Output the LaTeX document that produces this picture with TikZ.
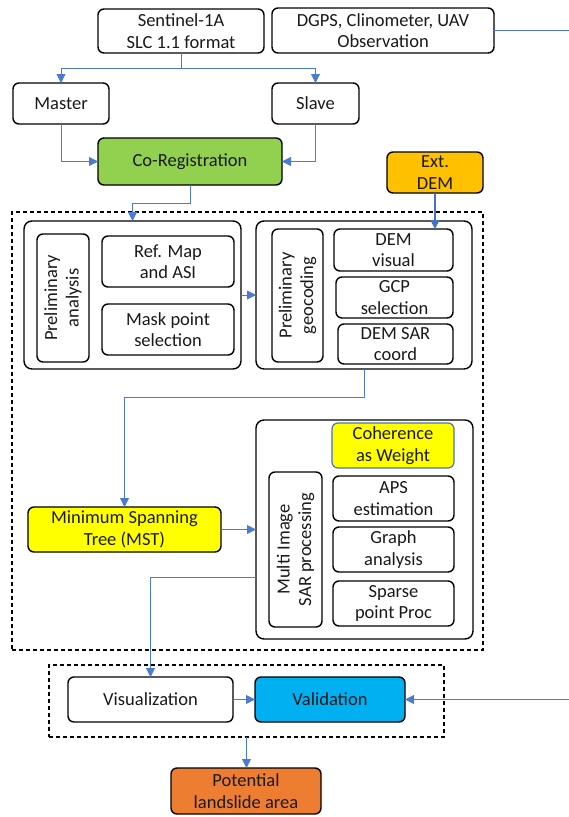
\documentclass[tikz,border=0pt]{standalone}
\usepackage{fontspec}
\setmainfont{Carlito}
\usetikzlibrary{arrows.meta,calc}
\definecolor{lnblue}{HTML}{4A7BD0}
\definecolor{darkblue}{HTML}{4472C4}
\definecolor{cogreen}{HTML}{92D050}
\definecolor{demorange}{HTML}{FFC000}
\definecolor{hiyellow}{HTML}{FFFF00}
\definecolor{valblue}{HTML}{00B0F0}
\definecolor{potorange}{HTML}{ED7D31}
\definecolor{ink}{HTML}{1A1A1A}
\tikzset{
  box/.style={draw=black, line width=1.4pt, rounded corners=6pt, align=center,
    inner sep=0pt, outer sep=0pt, text=ink, font=\fontsize{18.5}{21.5}\selectfont},
  panel/.style={draw=black, line width=1.4pt, rounded corners=8pt, inner sep=0pt, outer sep=0pt},
  group/.style={draw=black, line width=1.2pt, dash pattern=on 4pt off 3pt, inner sep=0pt, outer sep=0pt},
  conn/.style={draw=lnblue, line width=0.9pt, -{Triangle[length=9pt,width=9pt]}},
}
\begin{document}
\begin{tikzpicture}[x=1pt,y=-1pt]
\useasboundingbox (0,0) rectangle (568,817);
\fill[white] (0,0) rectangle (568,817);

% top inputs
\node[box, minimum width=166pt, minimum height=44pt] (sent) at (181,31) {Sentinel-1A\\SLC 1.1 format};
\node[box, minimum width=222pt, minimum height=45pt] (dgps) at (383,30.5) {DGPS, Clinometer, UAV\\Observation};
\node[box, minimum width=96pt, minimum height=41pt] (master) at (61,103.5) {Master};
\node[box, minimum width=87pt, minimum height=41pt] (slave) at (315.5,103.5) {Slave};
\node[box, fill=cogreen, minimum width=184pt, minimum height=47pt] (coreg) at (190,161.5) {Co-Registration};
\node[box, fill=demorange, minimum width=96pt, minimum height=41pt] (extdem) at (435,172.5) {Ext.\\DEM};

% processing group
\node[group, minimum width=471pt, minimum height=438pt] (outer) at (247.5,431) {};
\node[panel, minimum width=217pt, minimum height=148pt] (p1) at (132.5,295) {};
\node[box, rotate=90, minimum width=128pt, minimum height=52pt] (pa) at (63,298) {Preliminary\\analysis};
\node[box, minimum width=132pt, minimum height=51pt] (refmap) at (168,261.5) {Ref. Map\\and ASI};
\node[box, minimum width=132pt, minimum height=51pt] (mask) at (168,329.5) {Mask point\\selection};

\node[panel, minimum width=216pt, minimum height=148pt] (p2) at (364,295) {};
\node[box, rotate=90, minimum width=133pt, minimum height=51pt] (pg) at (297.5,295.5) {Preliminary\\geocoding};
\node[box, minimum width=119pt, minimum height=42pt] (demvis) at (393.5,250) {DEM\\visual};
\node[box, minimum width=117pt, minimum height=41pt] (gcp) at (394.5,297.5) {GCP\\selection};
\node[box, minimum width=115pt, minimum height=40pt] (demsar) at (395.5,344) {DEM SAR\\coord};

\node[box, fill=hiyellow, minimum width=193pt, minimum height=45pt] (mst) at (124.5,529.5) {Minimum Spanning\\Tree (MST)};

\node[panel, minimum width=217pt, minimum height=219pt] (p3) at (364.5,529.5) {};
\node[box, draw=darkblue, line width=1.2pt, fill=hiyellow, minimum width=122pt, minimum height=45pt] (coh) at (393,445.5) {Coherence\\as Weight};
\node[box, rotate=90, minimum width=155pt, minimum height=53pt] (mi) at (295.5,549.5) {Multi Image\\SAR processing};
\node[box, minimum width=121pt, minimum height=45pt] (aps) at (393.5,498.5) {APS\\estimation};
\node[box, minimum width=121pt, minimum height=45pt] (graph) at (393.5,549.5) {Graph\\analysis};
\node[box, minimum width=121pt, minimum height=45pt] (sparse) at (393.5,603.5) {Sparse\\point Proc};

% output group
\node[group, minimum width=395pt, minimum height=72pt] (outer2) at (246.5,701) {};
\node[box, minimum width=165pt, minimum height=45pt] (vis) at (150.5,699.5) {Visualization};
\node[box, fill=valblue, minimum width=150pt, minimum height=45pt] (val) at (330,699.5) {Validation};
\node[box, fill=potorange, minimum width=150pt, minimum height=46pt] (pot) at (246,791) {Potential\\landslide area};

\coordinate (farright) at (600,30.5);

% connectors
\draw[conn] (sent.south) -- ++(0,15) -| (master.north);
\draw[conn] (sent.south) -- ++(0,15) -| (slave.north);
\draw[conn] (master.south) |- (coreg.west);
\draw[conn] (slave.south) |- (coreg.east);
\draw[conn] (coreg.south) -- ++(0,18) -| (p1.north);
\draw[conn, draw=darkblue, line width=1.8pt] (extdem.south) -- (extdem.south |- demvis.north);
\draw[conn] (p1.east) -- (p2.west);
\draw[conn] (p2.south) -- ++(0,28) -| (mst.north);
\draw[conn] (mst.east) -- (p3.west);
\draw[conn] ($(p3.west)+(0,47.5)$) -| (vis.north);
\draw[conn] (vis.east) -- (val.west);
\draw[conn] (dgps.east) -- (farright) |- (val.east);
\draw[conn] (outer2.south) -- (outer2.south |- pot.north);
\end{tikzpicture}
\end{document}
